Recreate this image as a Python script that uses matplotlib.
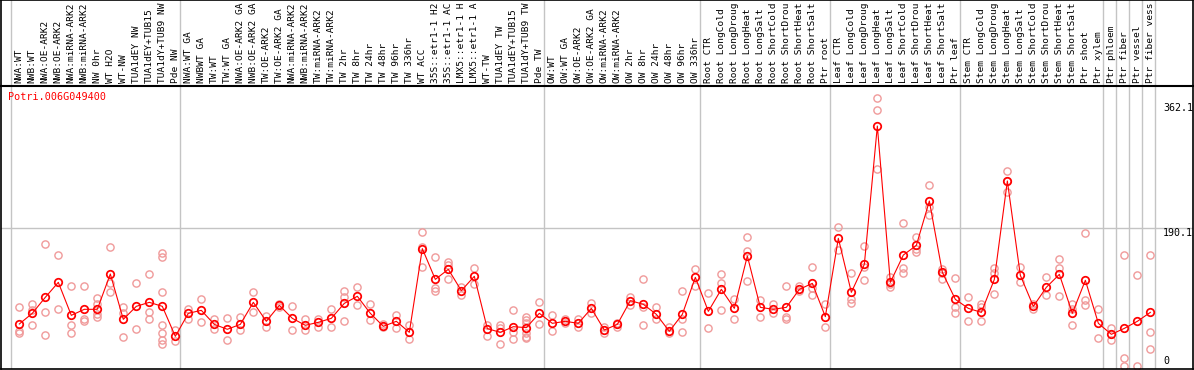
import matplotlib
matplotlib.use("Agg")
import matplotlib.pyplot as plt
import matplotlib.transforms as mtransforms
import numpy as np

gene = "Potri.006G049400"

# sample labels as far as they show, split by the vertical separators
groups = [
    ["NWA:WT", "NWB:WT", "NWA:OE-ARK2", "NWB:OE-ARK2", "NWA:miRNA-ARK2", "NWB:miRNA-ARK2",
     "NW 0hr", "WT H2O", "WT-NW", "TUA1dEY NW", "TUA1dEY+TUB15", "TUA1dY+TUB9 NW", "Pde NW"],
    ["NWA:WT GA", "NWBWT GA", "TW:WT", "TW:WT GA", "NWA:OE-ARK2 GA", "NWB:OE-ARK2 GA",
     "TW:OE-ARK2", "TW:OE-ARK2 GA", "NWA:miRNA-ARK2", "NWB:miRNA-ARK2", "TW:miRNA-ARK2",
     "TW:miRNA-ARK2", "TW 2hr", "TW 8hr", "TW 24hr", "TW 48hr", "TW 96hr", "TW 336hr", "WT ACC",
     "35S::etr1-1 H2", "35S::etr1-1 AC", "LMX5::etr1-1 H", "LMX5::etr1-1 A", "WT-TW",
     "TUA1dEY TW", "TUA1dEY+TUB15", "TUA1dY+TUB9 TW", "Pde TW"],
    ["OW:WT", "OW:WT GA", "OW:OE-ARK2", "OW:OE-ARK2 GA", "OW:miRNA-ARK2", "OW:miRNA-ARK2",
     "OW 2hr", "OW 8hr", "OW 24hr", "OW 48hr", "OW 96hr", "OW 336hr"],
    ["Root CTR", "Root LongCold", "Root LongDroug", "Root LongHeat", "Root LongSalt",
     "Root ShortCold", "Root ShortDrou", "Root ShortHeat", "Root ShortSalt", "Ptr root"],
    ["Leaf CTR", "Leaf LongCold", "Leaf LongDroug", "Leaf LongHeat", "Leaf LongSalt",
     "Leaf ShortCold", "Leaf ShortDrou", "Leaf ShortHeat", "Leaf ShortSalt", "Ptr leaf"],
    ["Stem CTR", "Stem LongCold", "Stem LongDroug", "Stem LongHeat", "Stem LongSalt",
     "Stem ShortCold", "Stem ShortDrou", "Stem ShortHeat", "Stem ShortSalt", "Ptr shoot",
     "Ptr xylem"],
    ["Ptr phloem"],
    ["Ptr fiber"],
    ["Ptr vessel"],
    ["Ptr fiber vess"],
]

# mean expression per sample (red line)
means = [57.8, 72.5, 94.5, 115.1, 69.7, 78.0, 78.0, 126.6, 64.2, 82.1, 87.6, 82.1, 40.8,
         72.5, 76.6, 57.3, 50.5, 57.3, 87.6, 61.5, 83.5, 65.6, 56.0, 60.1, 65.6, 86.2, 95.9,
         72.5, 54.6, 61.5, 46.3, 161.5, 119.2, 133.0, 103.7, 123.4, 51.4, 46.3, 54.1, 52.8,
         72.5, 58.7, 61.5, 58.7, 79.3, 49.5, 57.3, 89.9, 84.9, 71.1, 47.7, 71.1, 122.0, 75.2,
         105.5, 79.3, 151.4, 80.7, 78.0, 80.7, 105.5, 113.7, 67.9, 175.7, 101.4, 139.9, 330.2,
         115.1, 152.7, 166.0, 227.0, 128.9, 91.7, 79.3, 73.8, 119.2, 254.6, 124.7, 82.1, 108.3,
         126.1, 72.5, 117.9, 58.7, 43.6, 51.8, 61.5, 73.8]

# individual replicates (pale circles)
reps = [
    [80.7, 48.6, 45.0], [85.3, 77.1, 56.0], [167.4, 73.8, 42.2], [152.3, 78.0],
    [109.6, 56.0, 45.0], [109.6, 65.1, 61.5], [93.1, 84.9, 71.1, 67.0], [163.3, 113.7, 101.4],
    [80.7, 72.5, 39.5], [113.7, 50.5], [126.1, 73.8, 64.2],
    [155.0, 149.5, 101.4, 56.0, 45.0, 35.3, 29.8], [49.1, 33.9],
    [78.0, 65.1], [91.7, 60.1], [64.2, 50.5], [65.6, 35.3], [67.0, 49.1], [101.4, 73.8],
    [68.3, 53.2], [84.9, 80.7], [82.1, 49.1], [65.1, 49.1], [64.2, 54.1], [78.0, 53.2],
    [103.7, 94.5, 61.5], [108.3, 83.5], [84.9, 62.8], [57.3, 53.2], [69.7, 51.8],
    [56.0, 37.6], [183.9, 164.2, 135.8], [149.5, 106.9, 102.7], [143.6, 138.5, 119.2],
    [108.3, 98.2], [134.4, 112.4], [56.9, 41.7], [56.0, 51.8, 30.7], [76.6, 46.3, 37.6],
    [67.9, 63.3, 58.7, 45.0, 40.4, 38.1], [87.6, 57.3],
    [69.7, 48.6], [64.2, 58.7], [64.2, 53.2], [86.2, 72.5], [54.1, 45.0], [58.7, 53.2],
    [94.5, 83.5], [119.2, 80.7, 56.0], [80.7, 64.2], [54.1, 45.0], [102.7, 64.2, 46.3],
    [133.0, 109.6],
    [100.0, 51.8], [126.1, 113.7, 76.6], [91.7, 64.2], [177.0, 157.8, 116.5], [90.4, 67.9],
    [84.9, 72.5], [109.6, 67.9, 64.2], [109.6, 102.7], [135.8, 106.9, 97.2], [84.9, 54.1],
    [190.8, 159.2], [127.5, 91.7, 86.2], [164.7, 135.8, 117.9], [368.4, 351.8, 270.7],
    [122.0, 113.0, 109.2], [196.3, 134.4, 127.5], [178.0, 160.5, 156.4],
    [249.1, 219.2, 207.8], [133.0, 127.5, 119.2], [120.6, 80.7, 72.5],
    [94.5, 61.5], [84.9, 80.7, 61.5], [134.4, 127.5, 98.6], [268.3, 255.0, 240.0],
    [135.8, 115.1], [84.9, 78.0], [122.0, 97.2], [146.8, 134.4, 95.9], [84.9, 78.0, 56.0],
    [182.5, 90.4, 83.5], [78.0, 38.1],
    [51.8, 35.3], [152.3, 10.5, 0.0], [124.7, 0.0], [152.3, 46.3, 22.9],
]

y_ticks = [362.1, 190.1, 0]

labels = [s for g in groups for s in g]
n = len(labels)
x = np.arange(n)
bounds = np.cumsum([0] + [len(g) for g in groups])

W, H = 1194, 370
fig = plt.figure(figsize=(W / 100, H / 100), dpi=100)
fig.patch.set_facecolor("white")
mono = "DejaVu Sans Mono"

# main plot area and label strip on top
ax = fig.add_axes([1 / W, 1 / H, 1192 / W, 283 / H])
ax_top = fig.add_axes([1 / W, 284 / H, 1192 / W, 86 / H], sharex=ax)

ax.set_xlim(-1.408, 90.28)
ax.set_ylim(-4.13, 385.3)
ax_top.set_ylim(0, 1)

for a in (ax, ax_top):
    a.set_xticks([])
    a.set_yticks([])
    for sp in a.spines.values():
        sp.set_color("black")
        sp.set_linewidth(1.2)
    for b in bounds:
        a.axvline(b - 0.62, color="#c4c4c4", lw=1.0, zorder=0)
ax_top.spines["bottom"].set_linewidth(1.5)

ax.axhline(190.1, color="#c4c4c4", lw=1.0, zorder=0)

# replicates
for i, r in enumerate(reps):
    ax.plot([i] * len(r), r, "o", ms=5.2, mfc="none", mec="#f09a9a", mew=1.0,
            clip_on=True, zorder=2)

# mean line
ax.plot(x, means, "-", color="red", lw=0.8, zorder=3)
ax.plot(x, means, "o", ms=5.4, mfc="none", mec="red", mew=1.25, zorder=4)

# sample labels
for i, s in enumerate(labels):
    ax_top.text(i, 0.035, s, rotation=90, ha="center", va="bottom", fontsize=6.8,
                family=mono, color="black", clip_on=False)

# right value labels
trans = mtransforms.blended_transform_factory(fig.transFigure, ax.transData)
for v in y_ticks:
    ax.text(1163 / W, v, f"{v:g}" if v == 0 else f"{v:.1f}", transform=trans,
            ha="left", va="bottom" if v == 0 else "top", fontsize=7.2, family=mono)

fig.text(8 / W, 1 - 97 / H, gene, color="red", fontsize=7.3, family=mono,
         ha="left", va="center")

fig.savefig("out.png", dpi=100)
